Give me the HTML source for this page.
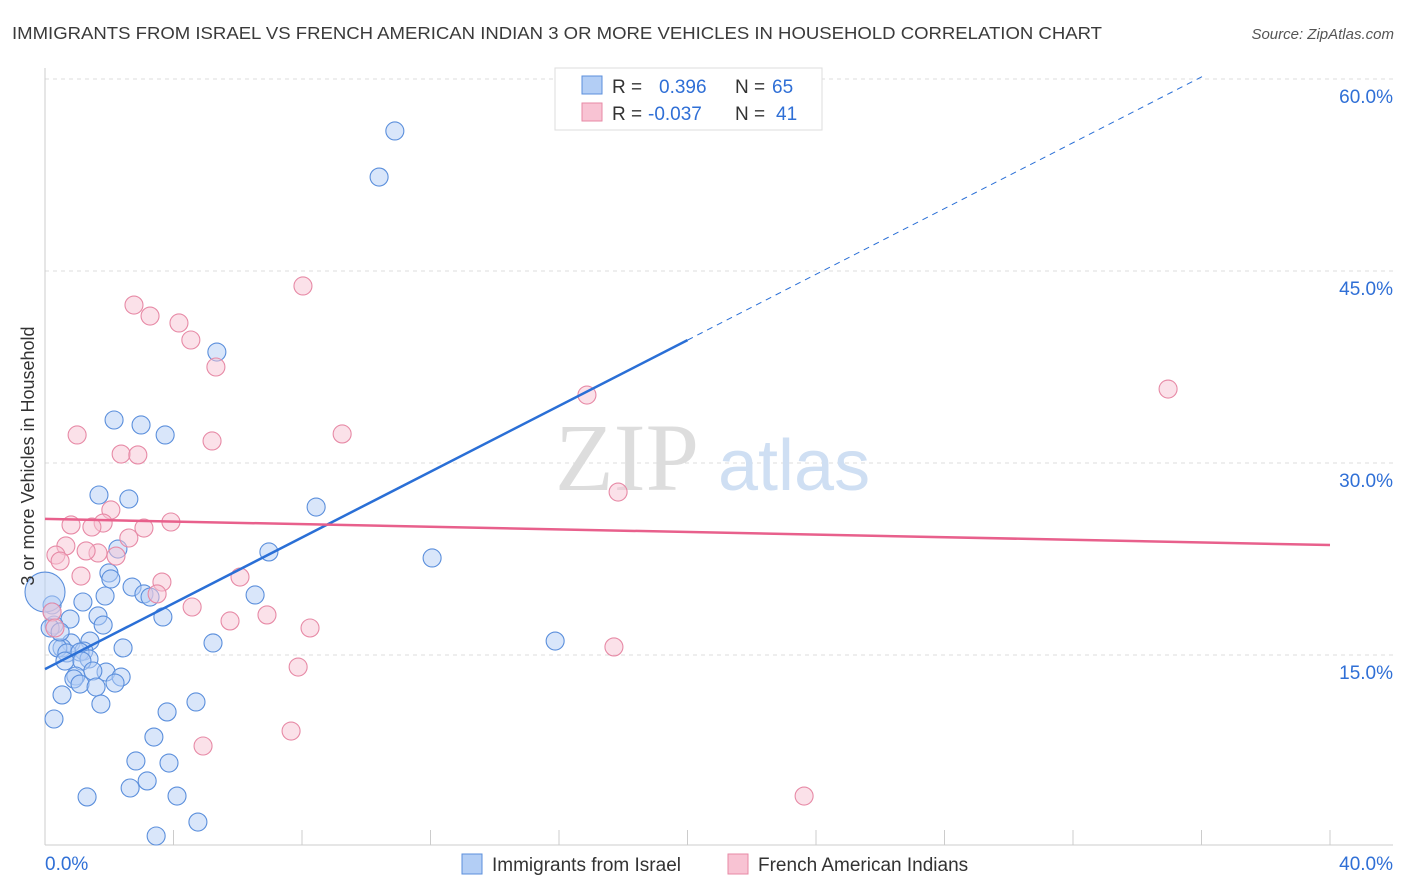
<!DOCTYPE html>
<html><head><meta charset="utf-8"><style>
body{margin:0;background:#fff;width:1406px;height:892px;overflow:hidden;font-family:"Liberation Sans",sans-serif}
svg{display:block}
</style></head><body>
<svg id="chart" width="1406" height="892" xmlns="http://www.w3.org/2000/svg">
<text x="12" y="39" font-size="17.5" fill="#3a3a3a" textLength="1090" lengthAdjust="spacingAndGlyphs">IMMIGRANTS FROM ISRAEL VS FRENCH AMERICAN INDIAN 3 OR MORE VEHICLES IN HOUSEHOLD CORRELATION CHART</text>
<text x="1394" y="39" font-size="15" fill="#555" font-style="italic" text-anchor="end">Source: ZipAtlas.com</text>
<g id="grid"></g>
<g><text x="555" y="490" font-size="96" fill="#ddd" font-family="Liberation Serif,serif">ZIP</text><text x="718" y="490" font-size="72" fill="#cfdff3">atlas</text></g>
<g id="marks"></g>
<text transform="translate(34,456) rotate(-90)" font-size="18" fill="#333" text-anchor="middle">3 or more Vehicles in Household</text>
<g>
<rect x="555" y="68" width="267" height="62" fill="#fff" stroke="#ddd"/>
<rect x="582" y="76" width="20" height="18" fill="#b3cef5" stroke="#5b8fdc"/>
<rect x="582" y="103" width="20" height="18" fill="#f8c3d3" stroke="#e78aa6"/>
<text x="612" y="93" font-size="19" fill="#333">R =</text><text x="659" y="93" font-size="19" fill="#2f6fd6">0.396</text>
<text x="735" y="93" font-size="19" fill="#333">N =</text><text x="772" y="93" font-size="19" fill="#2f6fd6">65</text>
<text x="612" y="120" font-size="19" fill="#333">R =</text><text x="648" y="120" font-size="19" fill="#2f6fd6">-0.037</text>
<text x="735" y="120" font-size="19" fill="#333">N =</text><text x="776" y="120" font-size="19" fill="#2f6fd6">41</text>
</g>
<g>
<rect x="462" y="854" width="20" height="20" fill="#b3cef5" stroke="#5b8fdc"/>
<text x="492" y="871" font-size="19" fill="#333">Immigrants from Israel</text>
<rect x="728" y="854" width="20" height="20" fill="#f8c3d3" stroke="#e78aa6"/>
<text x="758" y="871" font-size="19" fill="#333">French American Indians</text>
</g>
</svg>
<script>
const yTicks=[15,30,45,60];
const xTickLabels=["0.0%","40.0%"];
const blueX=[10.89,10.40,5.35,2.15,2.99,3.74,1.68,2.61,8.44,12.05,6.97,2.27,1.99,2.05,2.71,3.08,3.27,6.54,1.87,1.18,0.22,3.67,1.65,0.78,1.81,0.28,5.23,15.88,0.81,1.40,0.53,0.40,1.21,0.68,1.09,2.43,1.37,0.62,1.15,1.90,1.49,0.96,0.90,2.37,2.18,1.09,1.59,0.53,4.70,1.74,3.80,0.28,3.39,2.83,3.86,3.18,2.65,1.31,4.11,4.76,3.46,0.0,0.22,0.16,0.47];
const blueY=[55.94,52.34,38.67,33.36,32.97,32.19,27.50,27.19,26.56,22.58,23.05,23.28,21.41,20.94,20.31,19.77,19.53,19.69,19.61,19.14,18.91,17.97,18.05,17.81,17.34,17.34,15.94,16.09,15.94,16.09,15.55,15.55,15.31,15.16,15.23,15.55,14.69,14.53,14.53,13.67,13.75,13.36,13.13,13.28,12.81,12.73,12.50,11.88,11.33,11.17,10.55,10.0,8.59,6.72,6.56,5.16,4.61,3.91,3.98,1.95,0.86,19.92,18.36,17.11,16.80];
const pinkX=[8.03,2.77,3.27,4.17,4.54,5.32,16.87,34.96,1.00,9.25,5.20,2.37,2.89,17.84,2.05,3.92,0.81,1.81,1.46,3.08,2.61,0.65,2.21,1.65,1.28,0.34,0.47,1.12,6.07,3.64,3.49,4.58,5.76,6.91,8.25,0.22,0.31,7.88,17.71,4.92,7.66,23.63];
const pinkY=[43.83,42.34,41.48,40.94,39.61,37.50,35.31,35.78,32.19,32.27,31.72,30.70,30.63,27.73,26.33,25.39,25.16,25.31,25.0,24.92,24.14,23.52,22.73,22.97,23.13,22.81,22.34,21.17,21.09,20.70,19.77,18.75,17.66,18.13,17.11,18.36,17.11,14.06,15.63,7.89,9.06,3.98];
const blueTrend=[13.9,1.285];
const pinkTrend=[25.63,-0.051];
const X=v=>45+v/40*1285, Y=v=>847-v/15*192;
const NS="http://www.w3.org/2000/svg";
function mk(tag,at,parent){const e=document.createElementNS(NS,tag);for(const k in at)e.setAttribute(k,at[k]);parent.appendChild(e);return e;}
const grid=document.getElementById('grid'), marks=document.getElementById('marks');
yTicks.forEach(t=>{
 const l=mk('line',{x1:45,x2:1393,y1:Y(t),y2:Y(t),stroke:'#ddd','stroke-dasharray':'4,4'},grid);
 
 
 const tx=mk('text',{x:1393,y:Y(t)+24,'font-size':19,fill:'#2f6fd6','text-anchor':'end'},grid);tx.textContent=t.toFixed(1)+'%';
 
 
});
const ax=mk('line',{x1:45,x2:1393,y1:845,y2:845,stroke:'#ccc'},grid);


const ay=mk('line',{x1:45,x2:45,y1:68,y2:845,stroke:'#ccc'},grid);


for(let i=1;i<=10;i++){const t=mk('line',{x1:X(i*4),x2:X(i*4),y1:830,y2:845,stroke:'#ccc'},grid);
 
 }
xTickLabels.forEach((s,i)=>{const t=mk('text',{x:i?1393:45,y:870,'font-size':19,fill:'#2f6fd6','text-anchor':i?'end':'start'},grid);t.textContent=s;
 
 });
function pts(xs,ys,fill,stroke,name){xs.forEach((x,i)=>{const c=mk('circle',{cx:X(x),cy:Y(ys[i]),r:(x===0&&name==='blue')?20:9,fill,'fill-opacity':0.5,stroke,'stroke-width':1.1},marks);
 
 });}
pts(blueX,blueY,'#b3cef5','#5b8fdc','blue');
pts(pinkX,pinkY,'#f8c3d3','#e78aa6','pink');
const bx1=20, bx2=(60.3-blueTrend[0])/blueTrend[1];
const b1=mk('line',{x1:X(0),y1:Y(blueTrend[0]),x2:X(bx1),y2:Y(blueTrend[0]+blueTrend[1]*bx1),stroke:'#2a6fd6','stroke-width':2.5},marks);


const b2=mk('line',{x1:X(bx1),y1:Y(blueTrend[0]+blueTrend[1]*bx1),x2:X(bx2),y2:Y(60.3),stroke:'#2a6fd6','stroke-width':1,'stroke-dasharray':'6,5'},marks);


const p1=mk('line',{x1:X(0),y1:Y(pinkTrend[0]),x2:X(40),y2:Y(pinkTrend[0]+pinkTrend[1]*40),stroke:'#e8608c','stroke-width':2.5},marks);


</script>
</body></html>
